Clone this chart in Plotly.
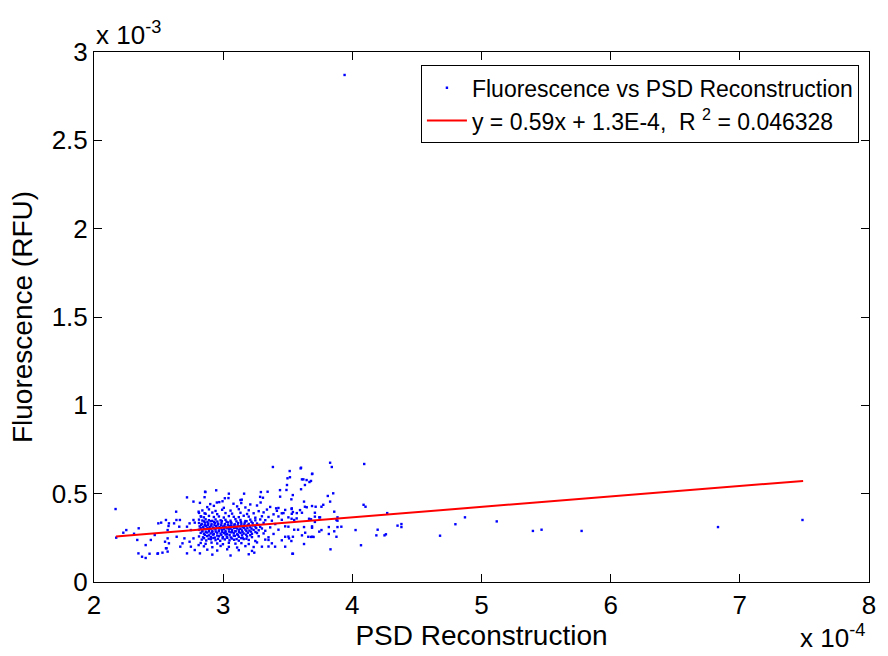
import plotly.graph_objects as go

# ---- data (x in units of 1e-4, y in units of 1e-3) ----
# dense cluster, read row by row
cluster_rows_x = [
    [2.82, 2.90, 2.97, 3.08, 3.14, 3.21, 3.29],
    [2.877, 2.928, 3.005, 3.108, 3.172, 3.262, 3.364, 3.428],
    [2.839, 2.890, 2.941, 2.992, 3.057, 3.121, 3.198, 3.275, 3.339, 3.416, 3.480],
    [2.813, 2.864, 2.916, 2.954, 3.018, 3.069, 3.134, 3.185, 3.236, 3.313, 3.390, 3.467, 3.531],
    [2.826, 2.851, 2.890, 2.928, 2.967, 3.005, 3.044, 3.082, 3.121, 3.159, 3.198, 3.249, 3.300, 3.351, 3.428, 3.505],
    [2.813, 2.839, 2.864, 2.890, 2.916, 2.941, 2.980, 3.018, 3.057, 3.095, 3.134, 3.172, 3.210, 3.249, 3.287, 3.326, 3.377, 3.454],
    [2.852, 2.878, 2.903, 2.929, 2.955, 2.990, 3.026, 3.061, 3.103, 3.138, 3.181, 3.219],
    [2.813, 2.834, 2.859, 2.885, 2.910, 2.936, 2.962, 2.987, 3.013, 3.039, 3.064, 3.090, 3.116, 3.141, 3.167, 3.198, 3.228, 3.262, 3.313, 3.403],
    [2.830, 2.856, 2.882, 2.908, 2.933, 2.958, 2.984, 3.010, 3.036, 3.062, 3.087, 3.113, 3.139, 3.164, 3.190, 3.232, 3.275],
    [2.818, 2.844, 2.869, 2.895, 2.921, 2.946, 2.972, 2.998, 3.023, 3.049, 3.075, 3.100, 3.126, 3.151, 3.177, 3.210, 3.249, 3.287, 3.364, 3.480],
    [2.826, 2.852, 2.878, 2.903, 2.929, 2.955, 2.980, 3.006, 3.031, 3.057, 3.083, 3.108, 3.134, 3.160, 3.188, 3.220, 3.256, 3.300],
    [2.813, 2.839, 2.864, 2.890, 2.916, 2.941, 2.967, 2.992, 3.018, 3.044, 3.069, 3.095, 3.121, 3.146, 3.172, 3.203, 3.236, 3.275, 3.326, 3.428],
    [2.839, 2.865, 2.891, 2.916, 2.942, 2.968, 2.993, 3.019, 3.045, 3.070, 3.096, 3.122, 3.150, 3.180, 3.215, 3.250],
    [2.826, 2.851, 2.877, 2.903, 2.928, 2.954, 2.980, 3.005, 3.031, 3.057, 3.082, 3.108, 3.134, 3.159, 3.192, 3.223, 3.262, 3.313, 3.390],
    [2.858, 2.890, 2.922, 2.954, 2.986, 3.018, 3.050, 3.082, 3.114, 3.146, 3.178, 3.210],
    [2.813, 2.844, 2.875, 2.905, 2.936, 2.967, 2.998, 3.028, 3.059, 3.090, 3.121, 3.151, 3.185, 3.223, 3.275, 3.351, 3.505],
    [2.852, 2.888, 2.924, 2.960, 2.996, 3.032, 3.068, 3.104, 3.140, 3.180],
    [2.834, 2.869, 2.905, 2.941, 2.977, 3.013, 3.049, 3.085, 3.121, 3.159, 3.198, 3.249, 3.326, 3.454],
    [2.826, 2.864, 2.910, 2.954, 2.998, 3.044, 3.095, 3.141, 3.198, 3.262, 3.377],
    [2.851, 2.916, 2.980, 3.044, 3.108, 3.172, 3.236, 3.351],
    [2.877, 2.954, 3.031, 3.121, 3.223],
    [2.916, 3.057, 3.198],
]
cluster_rows_y = [
    [0.448, 0.441, 0.452, 0.443, 0.447, 0.439, 0.450],
    [0.424, 0.431, 0.420, 0.428, 0.422, 0.433, 0.425, 0.419],
    [0.405, 0.411, 0.402, 0.409, 0.404, 0.412, 0.406, 0.401, 0.410, 0.403, 0.408],
    [0.391, 0.386, 0.393, 0.384, 0.390, 0.387, 0.392, 0.385, 0.389, 0.394, 0.383, 0.390, 0.386],
    [0.372, 0.366, 0.374, 0.368, 0.371, 0.365, 0.373, 0.369, 0.367, 0.375, 0.370, 0.364, 0.372, 0.368, 0.371, 0.366],
    [0.353, 0.348, 0.355, 0.350, 0.346, 0.354, 0.349, 0.352, 0.347, 0.356, 0.351, 0.345, 0.353, 0.349, 0.354, 0.350, 0.347, 0.352],
    [0.343, 0.340, 0.344, 0.339, 0.342, 0.345, 0.341, 0.338, 0.343, 0.340, 0.344, 0.341],
    [0.334, 0.329, 0.336, 0.331, 0.327, 0.335, 0.330, 0.333, 0.328, 0.337, 0.332, 0.326, 0.334, 0.330, 0.336, 0.329, 0.333, 0.331, 0.335, 0.328],
    [0.323, 0.320, 0.324, 0.319, 0.322, 0.325, 0.321, 0.318, 0.323, 0.320, 0.324, 0.321, 0.319, 0.325, 0.322, 0.320, 0.323],
    [0.315, 0.310, 0.317, 0.312, 0.308, 0.316, 0.311, 0.314, 0.309, 0.318, 0.313, 0.307, 0.315, 0.311, 0.316, 0.310, 0.314, 0.312, 0.309, 0.315],
    [0.305, 0.302, 0.306, 0.301, 0.304, 0.307, 0.303, 0.300, 0.305, 0.302, 0.306, 0.303, 0.301, 0.307, 0.304, 0.302, 0.305, 0.303],
    [0.296, 0.291, 0.298, 0.293, 0.289, 0.297, 0.292, 0.295, 0.290, 0.299, 0.294, 0.288, 0.296, 0.292, 0.297, 0.291, 0.295, 0.293, 0.290, 0.296],
    [0.286, 0.283, 0.287, 0.282, 0.285, 0.288, 0.284, 0.281, 0.286, 0.283, 0.287, 0.284, 0.282, 0.288, 0.285, 0.283],
    [0.278, 0.273, 0.280, 0.275, 0.271, 0.279, 0.274, 0.277, 0.272, 0.281, 0.276, 0.270, 0.278, 0.274, 0.279, 0.273, 0.277, 0.275, 0.272],
    [0.267, 0.264, 0.268, 0.263, 0.266, 0.269, 0.265, 0.262, 0.267, 0.264, 0.268, 0.265],
    [0.258, 0.253, 0.260, 0.255, 0.251, 0.259, 0.254, 0.257, 0.252, 0.261, 0.256, 0.250, 0.258, 0.254, 0.259, 0.253, 0.257],
    [0.248, 0.245, 0.249, 0.244, 0.247, 0.250, 0.246, 0.243, 0.248, 0.245],
    [0.240, 0.235, 0.242, 0.237, 0.233, 0.241, 0.236, 0.239, 0.234, 0.243, 0.238, 0.232, 0.240, 0.236],
    [0.221, 0.216, 0.223, 0.218, 0.214, 0.222, 0.217, 0.220, 0.215, 0.224, 0.219],
    [0.202, 0.197, 0.204, 0.199, 0.195, 0.203, 0.198, 0.201],
    [0.183, 0.178, 0.185, 0.180, 0.176],
    [0.155, 0.150, 0.157],
]

# scattered points left of the cluster
left_points = [
    (2.167, 0.413), (2.172, 0.251), (2.227, 0.279), (2.250, 0.294), (2.310, 0.273),
    (2.335, 0.238), (2.346, 0.304), (2.400, 0.209), (2.344, 0.162), (2.372, 0.143),
    (2.400, 0.136), (2.430, 0.160), (2.440, 0.238), (2.470, 0.266), (2.498, 0.332),
    (2.520, 0.336), (2.495, 0.162), (2.530, 0.166), (2.557, 0.351), (2.580, 0.332),
    (2.570, 0.294), (2.550, 0.228), (2.570, 0.247), (2.580, 0.219), (2.557, 0.191),
    (2.570, 0.172), (2.636, 0.398), (2.620, 0.332), (2.660, 0.313), (2.640, 0.256),
    (2.668, 0.200), (2.685, 0.219), (2.700, 0.247), (2.720, 0.479), (2.770, 0.455),
    (2.720, 0.313), (2.740, 0.332), (2.750, 0.294), (2.770, 0.351), (2.780, 0.336),
    (2.740, 0.228), (2.770, 0.247), (2.750, 0.200), (2.780, 0.181), (2.810, 0.209),
    (2.820, 0.162), (2.720, 0.162), (2.810, 0.398), (2.830, 0.370), (2.860, 0.323),
    (2.856, 0.389), (2.860, 0.511), (2.862, 0.509), (2.946, 0.519), (3.044, 0.500),
    (3.013, 0.474), (2.638, 0.351), (2.665, 0.351), (2.562, 0.191), (2.577, 0.317),
    (2.492, 0.160),
]
upper_points = [
    (2.856, 0.480), (2.951, 0.450), (2.995, 0.457), (3.041, 0.475), (3.144, 0.466),
    (3.286, 0.482), (3.344, 0.511), (3.440, 0.520), (3.490, 0.521), (3.517, 0.593),
    (3.162, 0.500), (3.134, 0.464), (3.292, 0.509), (3.308, 0.477), (3.241, 0.166),
]
right_points = [
    (3.385, 0.651), (3.515, 0.628), (3.603, 0.647), (3.600, 0.643), (3.688, 0.611),
    (3.690, 0.613), (3.646, 0.577), (3.680, 0.572), (3.621, 0.581), (3.610, 0.581),
    (3.668, 0.566), (3.633, 0.549), (3.603, 0.525), (3.498, 0.587), (3.494, 0.549),
    (3.828, 0.675), (3.841, 0.651), (4.092, 0.668), (3.852, 0.502), (3.810, 0.487),
    (3.828, 0.455), (3.831, 0.185), (4.067, 0.208), (4.025, 0.294), (4.186, 0.264),
    (4.249, 0.264), (4.260, 0.270), (4.196, 0.296), (4.087, 0.437), (4.102, 0.426),
    (3.536, 0.160), (3.626, 0.215), (3.659, 0.256), (3.690, 0.256), (3.744, 0.285),
    (3.441, 0.483), (3.410, 0.417), (3.454, 0.389), (3.531, 0.417), (3.569, 0.360),
    (3.480, 0.256), (3.505, 0.313), (3.351, 0.238), (3.402, 0.200), (3.480, 0.200),
    (3.300, 0.200), (3.710, 0.370), (3.633, 0.426), (3.761, 0.426), (3.877, 0.351),
    (3.915, 0.313), (3.877, 0.256), (3.761, 0.294), (3.539, 0.492), (3.528, 0.468),
    (3.626, 0.455), (3.775, 0.437), (3.688, 0.430), (3.716, 0.426), (3.647, 0.423),
    (3.530, 0.413), (3.595, 0.407), (3.540, 0.396), (3.570, 0.390), (3.610, 0.392),
    (3.710, 0.392), (3.860, 0.398), (3.530, 0.358), (3.550, 0.351), (3.665, 0.358),
    (3.680, 0.355), (3.710, 0.340), (3.744, 0.366), (3.750, 0.366), (3.885, 0.366),
    (3.885, 0.347), (4.270, 0.390), (4.350, 0.319), (4.380, 0.328), (4.380, 0.311),
    (3.550, 0.296), (3.580, 0.296), (3.626, 0.311), (3.688, 0.315), (3.688, 0.307),
    (3.818, 0.311), (3.885, 0.311), (3.860, 0.287), (3.510, 0.247), (3.540, 0.256),
    (3.610, 0.264), (3.635, 0.279), (3.680, 0.255), (3.700, 0.255), (3.818, 0.272),
    (3.528, 0.232), (3.540, 0.160),
]
far_points = [
    (4.679, 0.262), (4.798, 0.327), (4.872, 0.366), (5.118, 0.343), (5.398, 0.289),
    (5.465, 0.296), (5.775, 0.289), (6.831, 0.311), (7.485, 0.351), (3.940, 2.870),
]

# linear fit line (from legend: y = 0.59x + 1.3E-4), endpoints in plot units
fit_x = [2.17, 7.49]
fit_y = [0.258, 0.572]

x_ticks = [2, 3, 4, 5, 6, 7, 8]
y_ticks = [0, 0.5, 1, 1.5, 2, 2.5, 3]

# ---- assemble ----
psd_e4 = []
fluor_e3 = []
for rx, ry in zip(cluster_rows_x, cluster_rows_y):
    psd_e4.extend(rx)
    fluor_e3.extend(ry[:len(rx)])
for grp in (left_points, upper_points, right_points, far_points):
    for px, py in grp:
        psd_e4.append(px)
        fluor_e3.append(py)

FONT = "Liberation Sans, Arial, Helvetica, sans-serif"
TICK_SIZE = 26
TITLE_SIZE = 28
LEGEND_SIZE = 23

fig = go.Figure()
fig.add_trace(go.Scatter(
    x=psd_e4, y=fluor_e3, mode="markers",
    name="Fluorescence vs PSD Reconstruction",
    marker=dict(color="#0000FF", size=2.4, symbol="square", line=dict(width=0)),
))
fig.add_trace(go.Scatter(
    x=fit_x, y=fit_y, mode="lines",
    name="y = 0.59x + 1.3E-4,  R <sup>2</sup> = 0.046328",
    line=dict(color="#FF0000", width=2),
))

axis_common = dict(
    showgrid=False, zeroline=False, showline=True, linecolor="black", linewidth=1,
    mirror="ticks", ticks="inside", ticklen=8, tickwidth=1, tickcolor="black",
    tickfont=dict(family=FONT, size=TICK_SIZE, color="black"),
)
fig.update_xaxes(range=[2, 8], tickvals=x_ticks, ticktext=[str(v) for v in x_ticks],
                 title=dict(text="PSD Reconstruction", font=dict(family=FONT, size=TITLE_SIZE, color="black"), standoff=0),
                 **axis_common)
fig.update_yaxes(range=[0, 3], tickvals=y_ticks, ticktext=[f"{v:g}" for v in y_ticks],
                 title=dict(text="Fluorescence (RFU)", font=dict(family=FONT, size=TITLE_SIZE, color="black"), standoff=10),
                 **axis_common)

fig.add_annotation(text="x 10<sup>-3</sup>", xref="paper", yref="paper", x=0, y=1,
                   xanchor="left", yanchor="bottom", showarrow=False, yshift=0,
                   font=dict(family=FONT, size=TICK_SIZE, color="black"))
fig.add_annotation(text="x 10<sup>-4</sup>", xref="paper", yref="paper", x=1, y=-0.137,
                   xanchor="right", yanchor="bottom", showarrow=False, xshift=-2,
                   font=dict(family=FONT, size=TICK_SIZE, color="black"))

fig.update_layout(
    width=888, height=656,
    margin=dict(l=94, r=14, t=52, b=74),
    paper_bgcolor="white", plot_bgcolor="white",
    font=dict(family=FONT, color="black"),
    legend=dict(x=0.987, y=0.975, xanchor="right", yanchor="top",
                bgcolor="white", bordercolor="black", borderwidth=1,
                font=dict(family=FONT, size=LEGEND_SIZE, color="black"),
                itemwidth=40, tracegroupgap=0),
    showlegend=True,
)

fig.write_html("out.html")
